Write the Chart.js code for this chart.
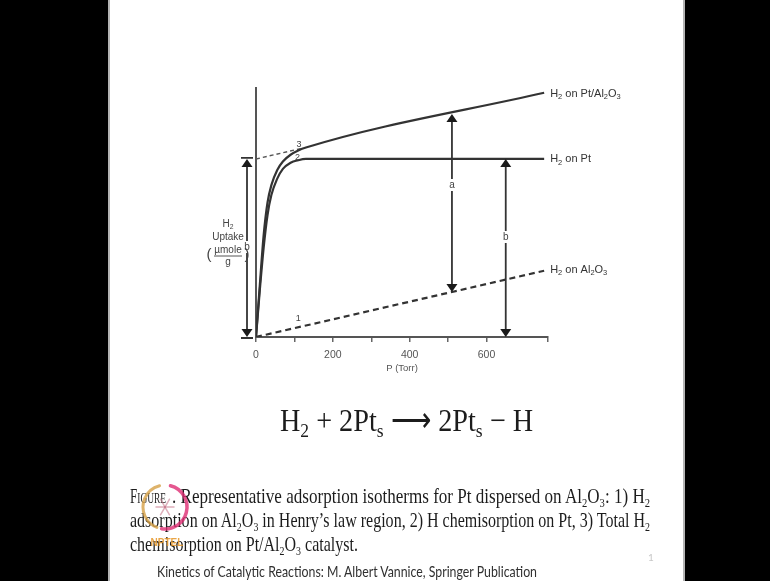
<!DOCTYPE html>
<html>
<head>
<meta charset="utf-8">
<script src="https://cdn.jsdelivr.net/npm/chart.js@4.4.1/dist/chart.umd.min.js"></script>
<style>
  html, body { margin: 0; padding: 0; width: 770px; height: 581px; overflow: hidden; background: #000; }
  #slide { position: absolute; left: 108px; top: 0; width: 577px; height: 581px; background: #fff;
           border-left: 2px solid #b4b4b4; border-right: 2px solid #b4b4b4; box-sizing: border-box; }
  #chart { position: absolute; left: 0; top: 0; }
  #logo { position: absolute; left: 130px; top: 478px; }
  .t { position: absolute; white-space: nowrap; transform-origin: 0 0; }
  .serif { font-family: "Liberation Serif", "Times New Roman", serif; color: #1c1c1c; }
  .sans { font-family: Lato, "Open Sans", "Liberation Sans", sans-serif; color: #303030; }
  sub { font-size: 0.62em; vertical-align: -0.28em; line-height: 0; }
  .sc { font-variant: small-caps; }
</style>
</head>
<body>
<div id="slide"></div>
<canvas id="chart" width="770" height="581"></canvas>

<div id="eq" class="t serif" style="left:280px; top:400px; font-size:32px; line-height:40px;">H<sub>2</sub> + 2Pt<sub>s</sub> &#x27F6; 2Pt<sub>s</sub> &minus; H</div>

<div id="cap0" class="t serif" style="left:130px; top:484px; font-size:21px; line-height:24px;"><span class="sc">Figure</span></div>
<div id="cap1" class="t serif" style="left:172px; top:484px; font-size:21px; line-height:24px;">. Representative adsorption isotherms for Pt dispersed on Al<sub>2</sub>O<sub>3</sub>: 1) H<sub>2</sub></div>
<div id="cap2" class="t serif" style="left:130px; top:508px; font-size:21px; line-height:24px;">adsorption on Al<sub>2</sub>O<sub>3</sub> in Henry&rsquo;s law region, 2) H chemisorption on Pt, 3) Total H<sub>2</sub></div>
<div id="cap3" class="t serif" style="left:130px; top:532px; font-size:21px; line-height:24px;">chemisorption on Pt/Al<sub>2</sub>O<sub>3</sub> catalyst.</div>
<div id="credit" class="t sans" style="left:157px; top:562px; font-size:15px; line-height:18px;">Kinetics of Catalytic Reactions: M. Albert Vannice, Springer Publication</div>
<div class="t sans" style="left:648px; top:551px; font-size:10px; line-height:12px; color:#c8c8c8;">1</div>

<canvas id="logo" width="72" height="76"></canvas>

<script>
// Isotherm data: pressure in Torr, uptake in µmole/g (relative units)
const pressure      = [0, 10, 20, 30, 40, 55, 70, 90, 110, 130, 750];
const uptakePt      = [0, 19, 36, 49, 57, 63.5, 67.5, 70, 71, 71.5, 71.5];
const uptakeTotal   = [0, 21, 41, 54, 61, 67, 70.5, 73.2, 74.9, 76.1, 98.1];
const pressureAl    = [0, 750];
const uptakeAl      = [0, 26.6];
const pressureExtra = [0, 120];
const uptakeExtra   = [71.5, 75.8];
const xTickLabels   = [0, 200, 400, 600];

// Arrow "a" (total minus support) and arrows "b" (Pt monolayer)
const arrowAPressure = 510;
const arrowAUptake   = [18.1, 89.6];
const arrowBPressure = 650;
const arrowBUptake   = [0, 71.5];

const INK = '#333';
const LABEL_FONT = '"Liberation Sans", Arial, sans-serif';

const pts = (xs, ys) => xs.map((x, i) => ({ x, y: ys[i] }));

// fit a text block horizontally to a target width
function fit(id, width) {
  const el = document.getElementById(id);
  const w = el.getBoundingClientRect().width;
  const k = width / w;
  el.style.transform = 'scaleX(' + k + ')';
  return k;
}
function fitWith(id, k) {
  document.getElementById(id).style.transform = 'scaleX(' + k + ')';
}
fit('eq', 253);
const kc = fit('cap2', 520);
fit('cap0', 36);
fit('cap1', 478);
fitWith('cap3', kc);
fit('credit', 380);

// rich text with subscripts
function rich(ctx, x, y, parts, size, align) {
  let w = 0;
  parts.forEach(p => {
    ctx.font = (p.sub ? size * 0.68 : size) + 'px ' + LABEL_FONT;
    p.w = ctx.measureText(p.t).width;
    w += p.w;
  });
  let cx = align === 'center' ? x - w / 2 : x;
  parts.forEach(p => {
    ctx.font = (p.sub ? size * 0.68 : size) + 'px ' + LABEL_FONT;
    ctx.fillText(p.t, cx, p.sub ? y + size * 0.32 : y);
    cx += p.w;
  });
}

function head(ctx, x, y, dir) {
  // dir = -1 points up, +1 points down; tip at (x, y)
  ctx.beginPath();
  ctx.moveTo(x, y);
  ctx.lineTo(x - 5.5, y - dir * 8);
  ctx.lineTo(x + 5.5, y - dir * 8);
  ctx.closePath();
  ctx.fill();
}

function vArrow(ctx, x, yTop, yBot, bars) {
  ctx.beginPath();
  ctx.moveTo(x, yTop + 2);
  ctx.lineTo(x, yBot - 2);
  ctx.stroke();
  head(ctx, x, yTop, -1);
  head(ctx, x, yBot, 1);
  if (bars) {
    ctx.beginPath();
    ctx.moveTo(x - 6, yTop - 1); ctx.lineTo(x + 6, yTop - 1);
    ctx.moveTo(x - 6, yBot + 1); ctx.lineTo(x + 6, yBot + 1);
    ctx.stroke();
  }
}

function boxLabel(ctx, text, x, y, size) {
  ctx.font = size + 'px ' + LABEL_FONT;
  const w = ctx.measureText(text).width;
  ctx.fillStyle = '#fff';
  ctx.fillRect(x - w / 2 - 1, y - size / 2 - 1, w + 2, size + 2);
  ctx.fillStyle = '#444';
  ctx.fillText(text, x, y);
}

const annotations = {
  id: 'annotations',
  afterDraw(chart) {
    const ctx = chart.ctx;
    const xs = chart.scales.x, ys = chart.scales.y;
    const X = v => xs.getPixelForValue(v);
    const Y = v => ys.getPixelForValue(v);
    ctx.save();
    ctx.strokeStyle = INK;
    ctx.fillStyle = '#1a1a1a';
    ctx.lineWidth = 1.8;

    // arrows
    vArrow(ctx, X(0) - 9, Y(arrowBUptake[1]), Y(arrowBUptake[0]), true);
    vArrow(ctx, X(arrowAPressure), Y(arrowAUptake[1]), Y(arrowAUptake[0]), false);
    vArrow(ctx, X(arrowBPressure), Y(arrowBUptake[1]), Y(arrowBUptake[0]), false);

    ctx.textAlign = 'center';
    ctx.textBaseline = 'middle';
    boxLabel(ctx, 'b', X(0) - 9, 247, 10);
    boxLabel(ctx, 'a', X(arrowAPressure), 185, 10);
    boxLabel(ctx, 'b', X(arrowBPressure), 237, 10);

    // curve numbers
    ctx.fillStyle = '#444';
    ctx.font = '9px ' + LABEL_FONT;
    ctx.fillText('3', X(112), Y(77.5));
    ctx.fillText('2', X(108), Y(72));
    ctx.fillText('1', X(110), Y(7.5));

    // series labels at line ends
    ctx.textAlign = 'left';
    ctx.fillStyle = '#333';
    const xe = X(750) + 6;
    rich(ctx, xe, Y(uptakeTotal[uptakeTotal.length - 1]) + 1,
      [{t:'H'},{t:'2',sub:true},{t:' on Pt/Al'},{t:'2',sub:true},{t:'O'},{t:'3',sub:true}], 11, 'left');
    rich(ctx, xe, Y(uptakePt[uptakePt.length - 1]),
      [{t:'H'},{t:'2',sub:true},{t:' on Pt'}], 11, 'left');
    rich(ctx, xe, Y(uptakeAl[uptakeAl.length - 1]) - 1,
      [{t:'H'},{t:'2',sub:true},{t:' on Al'},{t:'2',sub:true},{t:'O'},{t:'3',sub:true}], 11, 'left');

    // y-axis title
    const cx = 228;
    ctx.fillStyle = '#444';
    rich(ctx, cx, 224, [{t:'H'},{t:'2',sub:true}], 10, 'center');
    rich(ctx, cx, 237, [{t:'Uptake'}], 10, 'center');
    rich(ctx, cx, 250, [{t:'µmole'}], 10, 'center');
    rich(ctx, cx, 262, [{t:'g'}], 10, 'center');
    ctx.lineWidth = 1;
    ctx.strokeStyle = '#555';
    ctx.beginPath(); ctx.moveTo(cx - 14, 256); ctx.lineTo(cx + 14, 256); ctx.stroke();
    ctx.font = '15px ' + LABEL_FONT;
    ctx.textAlign = 'center';
    ctx.fillText('(', cx - 19, 255);
    ctx.fillText(')', cx + 19, 255);

    ctx.restore();
  }
};

new Chart(document.getElementById('chart'), {
  type: 'line',
  data: {
    datasets: [
      { label: 'H2 on Pt/Al2O3', data: pts(pressure, uptakeTotal), borderColor: INK, borderWidth: 2.2,
        cubicInterpolationMode: 'monotone', pointRadius: 0 },
      { label: 'H2 on Pt', data: pts(pressure, uptakePt), borderColor: INK, borderWidth: 2.2,
        cubicInterpolationMode: 'monotone', pointRadius: 0 },
      { label: 'H2 on Al2O3', data: pts(pressureAl, uptakeAl), borderColor: INK, borderWidth: 2.2,
        borderDash: [6, 4], pointRadius: 0 },
      { label: 'extrapolation', data: pts(pressureExtra, uptakeExtra), borderColor: '#555', borderWidth: 1.4,
        borderDash: [4, 3], pointRadius: 0 }
    ]
  },
  options: {
    responsive: false,
    animation: false,
    devicePixelRatio: 1,
    layout: { padding: { left: 256, right: 222, top: 88, bottom: 206 } },
    plugins: { legend: { display: false }, tooltip: { enabled: false } },
    scales: {
      x: {
        type: 'linear', min: 0, max: 760,
        afterFit: s => { s.height = 38; },
        border: { display: true, color: '#555', width: 2 },
        grid: { drawOnChartArea: false, drawTicks: true, tickLength: 5, color: '#666', lineWidth: 1.5 },
        ticks: {
          stepSize: 100, autoSkip: false, maxRotation: 0, padding: 7,
          color: '#555', font: { size: 10.5, family: LABEL_FONT },
          callback: v => xTickLabels.includes(v) ? String(v) : ''
        },
        title: { display: true, text: 'P (Torr)', color: '#555', padding: { top: 0, bottom: 1 },
                 font: { size: 9.5, family: LABEL_FONT } }
      },
      y: {
        type: 'linear', min: 0, max: 100,
        afterFit: s => { s.width = 0; },
        border: { display: true, color: '#555', width: 2 },
        grid: { display: false },
        ticks: { display: false }
      }
    }
  },
  plugins: [annotations]
});

// institute emblem, lower left of caption
(function () {
  const c = document.getElementById('logo').getContext('2d');
  c.lineCap = 'round';
  c.lineWidth = 3;
  c.strokeStyle = 'rgba(214,160,70,0.8)';
  c.beginPath(); c.arc(35, 29, 22, 0.62 * Math.PI, 1.42 * Math.PI); c.stroke();
  c.strokeStyle = 'rgba(222,45,115,0.8)';
  c.lineWidth = 3.5;
  c.beginPath(); c.arc(35, 29, 22, -0.42 * Math.PI, 0.55 * Math.PI); c.stroke();
  c.strokeStyle = 'rgba(200,120,140,0.6)';
  c.lineWidth = 1.5;
  for (let i = 0; i < 6; i++) {
    const a = i * Math.PI / 3;
    c.beginPath(); c.moveTo(35, 29); c.lineTo(35 + 9 * Math.cos(a), 29 + 9 * Math.sin(a)); c.stroke();
  }
  c.fillStyle = 'rgba(230,150,40,0.85)';
  c.font = 'bold 10px "Liberation Sans", Arial, sans-serif';
  c.textAlign = 'center';
  c.fillText('NPTEL', 37, 68);
})();
</script>
</body>
</html>
